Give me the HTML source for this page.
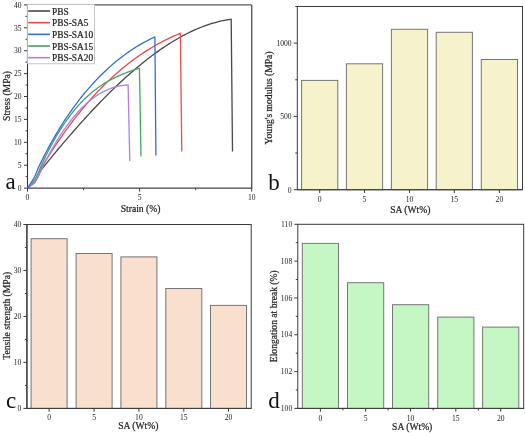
<!DOCTYPE html>
<html><head><meta charset="utf-8"><style>
html,body{margin:0;padding:0;background:#fff;}
body{width:525px;height:433px;overflow:hidden;}
svg{display:block;font-family:"Liberation Serif", serif;will-change:transform;}
.t{stroke:#222;stroke-width:0.22px;}
</style></head><body>
<svg width="525" height="433" viewBox="0 0 525 433">
<rect width="525" height="433" fill="#fff"/>
<line x1="27.50" y1="4.90" x2="251.70" y2="4.90" stroke="#5a5a5a" stroke-width="1.3" />
<line x1="251.70" y1="4.90" x2="251.70" y2="188.10" stroke="#5a5a5a" stroke-width="1.4" />
<line x1="27.50" y1="4.40" x2="27.50" y2="188.70" stroke="#333" stroke-width="1.1" />
<line x1="27.00" y1="188.10" x2="252.30" y2="188.10" stroke="#444" stroke-width="1.3" />
<line x1="24.00" y1="188.10" x2="27.50" y2="188.10" stroke="#3a3a3a" stroke-width="1.0" />
<text x="21.60" y="190.80" font-size="7.6" text-anchor="end" fill="#222">0</text>
<line x1="24.00" y1="165.20" x2="27.50" y2="165.20" stroke="#3a3a3a" stroke-width="1.0" />
<text x="21.60" y="167.90" font-size="7.6" text-anchor="end" fill="#222">5</text>
<line x1="24.00" y1="142.30" x2="27.50" y2="142.30" stroke="#3a3a3a" stroke-width="1.0" />
<text x="21.60" y="145.00" font-size="7.6" text-anchor="end" fill="#222">10</text>
<line x1="24.00" y1="119.40" x2="27.50" y2="119.40" stroke="#3a3a3a" stroke-width="1.0" />
<text x="21.60" y="122.10" font-size="7.6" text-anchor="end" fill="#222">15</text>
<line x1="24.00" y1="96.50" x2="27.50" y2="96.50" stroke="#3a3a3a" stroke-width="1.0" />
<text x="21.60" y="99.20" font-size="7.6" text-anchor="end" fill="#222">20</text>
<line x1="24.00" y1="73.60" x2="27.50" y2="73.60" stroke="#3a3a3a" stroke-width="1.0" />
<text x="21.60" y="76.30" font-size="7.6" text-anchor="end" fill="#222">25</text>
<line x1="24.00" y1="50.70" x2="27.50" y2="50.70" stroke="#3a3a3a" stroke-width="1.0" />
<text x="21.60" y="53.40" font-size="7.6" text-anchor="end" fill="#222">30</text>
<line x1="24.00" y1="27.80" x2="27.50" y2="27.80" stroke="#3a3a3a" stroke-width="1.0" />
<text x="21.60" y="30.50" font-size="7.6" text-anchor="end" fill="#222">35</text>
<line x1="24.00" y1="4.90" x2="27.50" y2="4.90" stroke="#3a3a3a" stroke-width="1.0" />
<text x="21.60" y="7.60" font-size="7.6" text-anchor="end" fill="#222">40</text>
<line x1="25.50" y1="176.65" x2="27.50" y2="176.65" stroke="#3a3a3a" stroke-width="1.0" />
<line x1="25.50" y1="153.75" x2="27.50" y2="153.75" stroke="#3a3a3a" stroke-width="1.0" />
<line x1="25.50" y1="130.85" x2="27.50" y2="130.85" stroke="#3a3a3a" stroke-width="1.0" />
<line x1="25.50" y1="107.95" x2="27.50" y2="107.95" stroke="#3a3a3a" stroke-width="1.0" />
<line x1="25.50" y1="85.05" x2="27.50" y2="85.05" stroke="#3a3a3a" stroke-width="1.0" />
<line x1="25.50" y1="62.15" x2="27.50" y2="62.15" stroke="#3a3a3a" stroke-width="1.0" />
<line x1="25.50" y1="39.25" x2="27.50" y2="39.25" stroke="#3a3a3a" stroke-width="1.0" />
<line x1="25.50" y1="16.35" x2="27.50" y2="16.35" stroke="#3a3a3a" stroke-width="1.0" />
<line x1="27.50" y1="188.10" x2="27.50" y2="191.60" stroke="#3a3a3a" stroke-width="1.0" />
<text x="27.50" y="200.30" font-size="7.6" text-anchor="middle" fill="#222">0</text>
<line x1="139.60" y1="188.10" x2="139.60" y2="191.60" stroke="#3a3a3a" stroke-width="1.0" />
<text x="139.60" y="200.30" font-size="7.6" text-anchor="middle" fill="#222">5</text>
<line x1="251.70" y1="188.10" x2="251.70" y2="191.60" stroke="#3a3a3a" stroke-width="1.0" />
<text x="251.70" y="200.30" font-size="7.6" text-anchor="middle" fill="#222">10</text>
<line x1="83.55" y1="188.10" x2="83.55" y2="190.10" stroke="#3a3a3a" stroke-width="1.0" />
<line x1="195.65" y1="188.10" x2="195.65" y2="190.10" stroke="#3a3a3a" stroke-width="1.0" />
<text class="t" x="140.60" y="212.00" font-size="9.6" text-anchor="middle" fill="#222">Strain (%)</text>
<text class="t" x="10.30" y="96.00" font-size="9.6" text-anchor="middle" fill="#222" transform="rotate(-90 10.30 96.00)">Stress (MPa)</text>
<text x="5.50" y="188.60" font-size="23" text-anchor="start" fill="#111">a</text>
<polyline points="27.80,187.80 28.94,186.94 30.07,186.08 31.21,185.22 32.35,184.43 33.48,183.58 34.62,182.40 35.75,180.71 36.89,178.70 38.03,176.46 39.16,173.88 40.30,171.00 42.44,168.33 44.59,165.68 46.73,163.04 48.88,160.42 51.02,157.80 53.17,155.20 55.31,152.62 57.46,150.04 59.60,147.48 61.75,144.94 63.89,142.41 66.04,139.90 68.18,137.40 70.33,134.92 72.47,132.45 74.62,130.00 76.76,127.57 78.91,125.15 81.05,122.76 83.20,120.38 85.34,118.02 87.49,115.67 89.63,113.35 91.78,111.05 93.92,108.76 96.07,106.50 98.21,104.25 100.36,102.03 102.50,99.83 104.65,97.65 106.79,95.49 108.94,93.35 111.08,91.24 113.23,89.15 115.37,87.08 117.52,85.03 119.66,83.01 121.81,81.02 123.95,79.04 126.10,77.10 128.24,75.17 130.39,73.28 132.53,71.41 134.68,69.56 136.82,67.74 138.97,65.95 141.11,64.19 143.26,62.45 145.40,60.74 147.55,59.06 149.69,57.41 151.84,55.79 153.98,54.19 156.13,52.63 158.27,51.10 160.42,49.59 162.56,48.12 164.71,46.68 166.85,45.27 169.00,43.89 171.14,42.54 173.29,41.23 175.43,39.95 177.58,38.70 179.72,37.48 181.87,36.30 184.01,35.15 186.16,34.04 188.30,32.96 190.45,31.92 192.59,30.91 194.74,29.94 196.88,29.00 199.03,28.10 201.17,27.24 203.32,26.42 205.46,25.63 207.61,24.88 209.75,24.17 211.90,23.49 214.04,22.86 216.19,22.26 218.33,21.71 220.48,21.19 222.62,20.72 224.77,20.28 226.91,19.89 229.06,19.54 231.20,19.22 232.50,151.40" fill="none" stroke="#474747" stroke-width="1.3" stroke-linejoin="round"/>
<polyline points="27.80,187.80 29.02,186.98 30.24,186.05 31.45,185.04 32.67,183.96 33.89,182.77 35.11,181.36 36.33,179.59 37.55,177.41 38.76,174.76 39.98,171.61 41.20,168.00 42.76,165.41 44.33,162.84 45.89,160.31 47.46,157.80 49.02,155.32 50.58,152.88 52.15,150.45 53.71,148.06 55.28,145.70 56.84,143.36 58.40,141.05 59.97,138.77 61.53,136.52 63.10,134.29 64.66,132.09 66.22,129.92 67.79,127.77 69.35,125.65 70.92,123.56 72.48,121.50 74.04,119.46 75.61,117.44 77.17,115.45 78.74,113.49 80.30,111.55 81.87,109.64 83.43,107.75 84.99,105.89 86.56,104.06 88.12,102.24 89.69,100.46 91.25,98.69 92.81,96.96 94.38,95.24 95.94,93.55 97.51,91.88 99.07,90.24 100.63,88.62 102.20,87.02 103.76,85.45 105.33,83.90 106.89,82.37 108.45,80.86 110.02,79.38 111.58,77.92 113.15,76.48 114.71,75.07 116.27,73.67 117.84,72.30 119.40,70.95 120.97,69.62 122.53,68.31 124.09,67.02 125.66,65.75 127.22,64.51 128.79,63.28 130.35,62.07 131.91,60.89 133.48,59.72 135.04,58.58 136.61,57.45 138.17,56.35 139.73,55.26 141.30,54.19 142.86,53.14 144.43,52.11 145.99,51.10 147.56,50.11 149.12,49.14 150.68,48.18 152.25,47.25 153.81,46.33 155.38,45.42 156.94,44.54 158.50,43.67 160.07,42.83 161.63,41.99 163.20,41.18 164.76,40.38 166.32,39.60 167.89,38.83 169.45,38.09 171.02,37.35 172.58,36.64 174.14,35.94 175.71,35.25 177.27,34.58 178.84,33.93 180.40,33.29 181.80,151.40" fill="none" stroke="#e84a4e" stroke-width="1.3" stroke-linejoin="round"/>
<polyline points="27.80,187.80 28.93,186.76 30.05,185.60 31.18,184.32 32.31,182.94 33.44,181.45 34.56,179.81 35.69,177.99 36.82,175.93 37.95,173.56 39.07,170.90 40.20,168.00 41.31,165.52 42.43,163.09 43.54,160.70 44.66,158.35 45.77,156.05 46.89,153.79 48.00,151.57 49.12,149.39 50.23,147.25 51.35,145.15 52.46,143.10 53.58,141.08 54.69,139.10 55.80,137.16 56.92,135.26 58.03,133.40 59.15,131.57 60.26,129.79 61.38,128.03 62.49,126.32 63.61,124.64 64.72,122.99 65.84,121.38 66.95,119.80 68.07,118.26 69.18,116.75 70.29,115.27 71.41,113.82 72.52,112.41 73.64,111.03 74.75,109.67 75.87,108.35 76.98,107.06 78.10,105.80 79.21,104.57 80.33,103.36 81.44,102.19 82.56,101.04 83.67,99.91 84.78,98.82 85.90,97.75 87.01,96.71 88.13,95.69 89.24,94.70 90.36,93.73 91.47,92.78 92.59,91.86 93.70,90.96 94.82,90.09 95.93,89.23 97.04,88.40 98.16,87.59 99.27,86.80 100.39,86.03 101.50,85.28 102.62,84.54 103.73,83.83 104.85,83.14 105.96,82.46 107.08,81.80 108.19,81.16 109.31,80.53 110.42,79.92 111.53,79.33 112.65,78.75 113.76,78.19 114.88,77.63 115.99,77.10 117.11,76.57 118.22,76.06 119.34,75.57 120.45,75.08 121.57,74.60 122.68,74.14 123.80,73.69 124.91,73.24 126.02,72.81 127.14,72.38 128.25,71.97 129.37,71.56 130.48,71.16 131.60,70.76 132.71,70.38 133.83,70.00 134.94,69.62 136.06,69.25 137.17,68.89 138.29,68.53 139.40,68.17 141.00,156.50" fill="none" stroke="#42a565" stroke-width="1.3" stroke-linejoin="round"/>
<polyline points="27.80,187.80 29.11,186.78 30.42,185.80 31.73,184.88 33.04,184.06 34.35,182.94 35.65,181.01 36.96,178.63 38.27,176.23 39.58,173.66 40.89,170.92 42.20,168.00 43.17,166.02 44.13,164.07 45.10,162.15 46.06,160.25 47.03,158.38 47.99,156.53 48.96,154.72 49.92,152.93 50.89,151.16 51.85,149.43 52.82,147.71 53.78,146.03 54.75,144.37 55.71,142.74 56.68,141.13 57.64,139.55 58.61,137.99 59.57,136.46 60.54,134.96 61.50,133.48 62.47,132.02 63.43,130.59 64.40,129.19 65.36,127.81 66.33,126.45 67.29,125.12 68.26,123.81 69.22,122.53 70.19,121.27 71.16,120.03 72.12,118.82 73.09,117.64 74.05,116.47 75.02,115.33 75.98,114.21 76.95,113.12 77.91,112.05 78.88,111.00 79.84,109.97 80.81,108.97 81.77,107.99 82.74,107.03 83.70,106.09 84.67,105.18 85.63,104.29 86.60,103.42 87.56,102.57 88.53,101.74 89.49,100.94 90.46,100.15 91.42,99.39 92.39,98.65 93.35,97.93 94.32,97.23 95.28,96.55 96.25,95.89 97.21,95.25 98.18,94.63 99.14,94.03 100.11,93.46 101.08,92.90 102.04,92.36 103.01,91.84 103.97,91.35 104.94,90.87 105.90,90.41 106.87,89.97 107.83,89.55 108.80,89.14 109.76,88.76 110.73,88.39 111.69,88.05 112.66,87.72 113.62,87.41 114.59,87.12 115.55,86.85 116.52,86.59 117.48,86.35 118.45,86.13 119.41,85.93 120.38,85.75 121.34,85.58 122.31,85.43 123.27,85.30 124.24,85.18 125.20,85.08 126.17,85.00 127.13,84.93 128.10,84.88 129.80,161.00" fill="none" stroke="#b27ee2" stroke-width="1.3" stroke-linejoin="round"/>
<polyline points="27.80,187.80 28.75,186.40 29.69,184.95 30.64,183.45 31.58,181.91 32.53,180.36 33.47,178.73 34.42,176.96 35.36,175.00 36.31,172.83 37.25,170.49 38.20,168.00 39.51,165.28 40.82,162.60 42.13,159.96 43.44,157.36 44.76,154.79 46.07,152.27 47.38,149.78 48.69,147.33 50.00,144.92 51.31,142.55 52.62,140.21 53.93,137.91 55.25,135.64 56.56,133.41 57.87,131.21 59.18,129.04 60.49,126.91 61.80,124.81 63.11,122.75 64.42,120.71 65.74,118.71 67.05,116.74 68.36,114.80 69.67,112.89 70.98,111.01 72.29,109.16 73.60,107.34 74.91,105.55 76.23,103.78 77.54,102.05 78.85,100.34 80.16,98.65 81.47,97.00 82.78,95.37 84.09,93.76 85.40,92.18 86.72,90.62 88.03,89.09 89.34,87.59 90.65,86.10 91.96,84.64 93.27,83.20 94.58,81.78 95.89,80.38 97.21,79.01 98.52,77.65 99.83,76.32 101.14,75.01 102.45,73.71 103.76,72.44 105.07,71.19 106.38,69.95 107.70,68.74 109.01,67.54 110.32,66.37 111.63,65.21 112.94,64.08 114.25,62.96 115.56,61.86 116.87,60.78 118.19,59.72 119.50,58.68 120.81,57.65 122.12,56.64 123.43,55.66 124.74,54.68 126.05,53.73 127.36,52.79 128.68,51.88 129.99,50.97 131.30,50.09 132.61,49.22 133.92,48.37 135.23,47.54 136.54,46.72 137.85,45.92 139.17,45.13 140.48,44.37 141.79,43.61 143.10,42.87 144.41,42.15 145.72,41.45 147.03,40.76 148.34,40.08 149.66,39.42 150.97,38.77 152.28,38.14 153.59,37.52 154.90,36.92 155.90,155.50" fill="none" stroke="#2f6fd6" stroke-width="1.3" stroke-linejoin="round"/>
<rect x="27.5" y="4.3" width="67" height="59.5" fill="#fff" stroke="#b8b8b8" stroke-width="0.8"/>
<line x1="28.20" y1="11.00" x2="50.00" y2="11.00" stroke="#474747" stroke-width="1.6" />
<text class="t" x="52.00" y="14.60" font-size="9.4" text-anchor="start" fill="#222">PBS</text>
<line x1="28.20" y1="22.67" x2="50.00" y2="22.67" stroke="#e84a4e" stroke-width="1.6" />
<text class="t" x="52.00" y="26.27" font-size="9.4" text-anchor="start" fill="#222">PBS-SA5</text>
<line x1="28.20" y1="34.34" x2="50.00" y2="34.34" stroke="#2f6fd6" stroke-width="1.6" />
<text class="t" x="52.00" y="37.94" font-size="9.4" text-anchor="start" fill="#222">PBS-SA10</text>
<line x1="28.20" y1="46.01" x2="50.00" y2="46.01" stroke="#42a565" stroke-width="1.6" />
<text class="t" x="52.00" y="49.61" font-size="9.4" text-anchor="start" fill="#222">PBS-SA15</text>
<line x1="28.20" y1="57.68" x2="50.00" y2="57.68" stroke="#b27ee2" stroke-width="1.6" />
<text class="t" x="52.00" y="61.28" font-size="9.4" text-anchor="start" fill="#222">PBS-SA20</text>
<rect x="297.3" y="6.5" width="225.20" height="183.20" fill="none" stroke="#3a3a3a" stroke-width="1.0"/>
<line x1="293.80" y1="189.70" x2="297.30" y2="189.70" stroke="#3a3a3a" stroke-width="1.0" />
<text x="291.60" y="192.60" font-size="7.6" text-anchor="end" fill="#222">0</text>
<line x1="293.80" y1="116.42" x2="297.30" y2="116.42" stroke="#3a3a3a" stroke-width="1.0" />
<text x="291.60" y="119.32" font-size="7.6" text-anchor="end" fill="#222">500</text>
<line x1="293.80" y1="43.14" x2="297.30" y2="43.14" stroke="#3a3a3a" stroke-width="1.0" />
<text x="291.60" y="46.04" font-size="7.6" text-anchor="end" fill="#222">1000</text>
<line x1="295.30" y1="153.06" x2="297.30" y2="153.06" stroke="#3a3a3a" stroke-width="1.0" />
<line x1="295.30" y1="79.78" x2="297.30" y2="79.78" stroke="#3a3a3a" stroke-width="1.0" />
<line x1="295.30" y1="6.50" x2="297.30" y2="6.50" stroke="#3a3a3a" stroke-width="1.0" />
<rect x="301.60" y="80.40" width="36.20" height="109.30" fill="#f5f2cc" stroke="#767676" stroke-width="1.0"/>
<rect x="346.40" y="63.80" width="36.20" height="125.90" fill="#f5f2cc" stroke="#767676" stroke-width="1.0"/>
<rect x="391.40" y="29.30" width="36.20" height="160.40" fill="#f5f2cc" stroke="#767676" stroke-width="1.0"/>
<rect x="436.20" y="32.30" width="36.20" height="157.40" fill="#f5f2cc" stroke="#767676" stroke-width="1.0"/>
<rect x="481.30" y="59.50" width="36.20" height="130.20" fill="#f5f2cc" stroke="#767676" stroke-width="1.0"/>
<line x1="319.70" y1="189.70" x2="319.70" y2="193.00" stroke="#3a3a3a" stroke-width="1.0" />
<text x="319.70" y="201.80" font-size="7.6" text-anchor="middle" fill="#222">0</text>
<line x1="364.50" y1="189.70" x2="364.50" y2="193.00" stroke="#3a3a3a" stroke-width="1.0" />
<text x="364.50" y="201.80" font-size="7.6" text-anchor="middle" fill="#222">5</text>
<line x1="409.50" y1="189.70" x2="409.50" y2="193.00" stroke="#3a3a3a" stroke-width="1.0" />
<text x="409.50" y="201.80" font-size="7.6" text-anchor="middle" fill="#222">10</text>
<line x1="454.30" y1="189.70" x2="454.30" y2="193.00" stroke="#3a3a3a" stroke-width="1.0" />
<text x="454.30" y="201.80" font-size="7.6" text-anchor="middle" fill="#222">15</text>
<line x1="499.40" y1="189.70" x2="499.40" y2="193.00" stroke="#3a3a3a" stroke-width="1.0" />
<text x="499.40" y="201.80" font-size="7.6" text-anchor="middle" fill="#222">20</text>
<line x1="297.30" y1="189.70" x2="522.50" y2="189.70" stroke="#3a3a3a" stroke-width="1.0" />
<text class="t" x="410.30" y="212.90" font-size="9.6" text-anchor="middle" fill="#222">SA (Wt%)</text>
<text class="t" x="272.00" y="97.90" font-size="9.6" text-anchor="middle" fill="#222" transform="rotate(-90 272.00 97.90)">Young's modulus (MPa)</text>
<text x="268.30" y="189.60" font-size="23" text-anchor="start" fill="#111">b</text>
<rect x="26.9" y="224.5" width="224.30" height="183.90" fill="none" stroke="#3a3a3a" stroke-width="1.0"/>
<line x1="26.90" y1="224.50" x2="26.90" y2="408.40" stroke="#3a3a3a" stroke-width="1.2" />
<line x1="23.40" y1="408.40" x2="26.90" y2="408.40" stroke="#3a3a3a" stroke-width="1.0" />
<text x="21.40" y="411.00" font-size="7.6" text-anchor="end" fill="#222">0</text>
<line x1="23.40" y1="362.42" x2="26.90" y2="362.42" stroke="#3a3a3a" stroke-width="1.0" />
<text x="21.40" y="365.02" font-size="7.6" text-anchor="end" fill="#222">10</text>
<line x1="23.40" y1="316.45" x2="26.90" y2="316.45" stroke="#3a3a3a" stroke-width="1.0" />
<text x="21.40" y="319.05" font-size="7.6" text-anchor="end" fill="#222">20</text>
<line x1="23.40" y1="270.48" x2="26.90" y2="270.48" stroke="#3a3a3a" stroke-width="1.0" />
<text x="21.40" y="273.08" font-size="7.6" text-anchor="end" fill="#222">30</text>
<line x1="23.40" y1="224.50" x2="26.90" y2="224.50" stroke="#3a3a3a" stroke-width="1.0" />
<text x="21.40" y="227.10" font-size="7.6" text-anchor="end" fill="#222">40</text>
<line x1="24.90" y1="385.41" x2="26.90" y2="385.41" stroke="#3a3a3a" stroke-width="1.0" />
<line x1="24.90" y1="339.44" x2="26.90" y2="339.44" stroke="#3a3a3a" stroke-width="1.0" />
<line x1="24.90" y1="293.46" x2="26.90" y2="293.46" stroke="#3a3a3a" stroke-width="1.0" />
<line x1="24.90" y1="247.49" x2="26.90" y2="247.49" stroke="#3a3a3a" stroke-width="1.0" />
<rect x="31.10" y="238.70" width="36.00" height="169.70" fill="#f9dfcd" stroke="#767676" stroke-width="1.0"/>
<rect x="76.10" y="253.50" width="36.00" height="154.90" fill="#f9dfcd" stroke="#767676" stroke-width="1.0"/>
<rect x="120.90" y="256.90" width="36.00" height="151.50" fill="#f9dfcd" stroke="#767676" stroke-width="1.0"/>
<rect x="165.80" y="288.50" width="36.00" height="119.90" fill="#f9dfcd" stroke="#767676" stroke-width="1.0"/>
<rect x="210.50" y="305.40" width="36.00" height="103.00" fill="#f9dfcd" stroke="#767676" stroke-width="1.0"/>
<line x1="49.10" y1="408.40" x2="49.10" y2="411.70" stroke="#3a3a3a" stroke-width="1.0" />
<text x="49.10" y="420.40" font-size="7.6" text-anchor="middle" fill="#222">0</text>
<line x1="94.10" y1="408.40" x2="94.10" y2="411.70" stroke="#3a3a3a" stroke-width="1.0" />
<text x="94.10" y="420.40" font-size="7.6" text-anchor="middle" fill="#222">5</text>
<line x1="138.90" y1="408.40" x2="138.90" y2="411.70" stroke="#3a3a3a" stroke-width="1.0" />
<text x="138.90" y="420.40" font-size="7.6" text-anchor="middle" fill="#222">10</text>
<line x1="183.80" y1="408.40" x2="183.80" y2="411.70" stroke="#3a3a3a" stroke-width="1.0" />
<text x="183.80" y="420.40" font-size="7.6" text-anchor="middle" fill="#222">15</text>
<line x1="228.50" y1="408.40" x2="228.50" y2="411.70" stroke="#3a3a3a" stroke-width="1.0" />
<text x="228.50" y="420.40" font-size="7.6" text-anchor="middle" fill="#222">20</text>
<line x1="26.90" y1="408.40" x2="251.20" y2="408.40" stroke="#3a3a3a" stroke-width="1.0" />
<text class="t" x="138.30" y="428.80" font-size="9.6" text-anchor="middle" fill="#222">SA (Wt%)</text>
<text class="t" x="10.20" y="315.80" font-size="9.6" text-anchor="middle" fill="#222" transform="rotate(-90 10.20 315.80)">Tensile strength (MPa)</text>
<text x="6.00" y="408.20" font-size="23" text-anchor="start" fill="#111">c</text>
<rect x="297.8" y="224.3" width="225.90" height="184.10" fill="none" stroke="#3a3a3a" stroke-width="1.0"/>
<line x1="294.30" y1="408.40" x2="297.80" y2="408.40" stroke="#3a3a3a" stroke-width="1.0" />
<text x="292.20" y="411.00" font-size="7.6" text-anchor="end" fill="#222">100</text>
<line x1="294.30" y1="371.58" x2="297.80" y2="371.58" stroke="#3a3a3a" stroke-width="1.0" />
<text x="292.20" y="374.18" font-size="7.6" text-anchor="end" fill="#222">102</text>
<line x1="294.30" y1="334.76" x2="297.80" y2="334.76" stroke="#3a3a3a" stroke-width="1.0" />
<text x="292.20" y="337.36" font-size="7.6" text-anchor="end" fill="#222">104</text>
<line x1="294.30" y1="297.94" x2="297.80" y2="297.94" stroke="#3a3a3a" stroke-width="1.0" />
<text x="292.20" y="300.54" font-size="7.6" text-anchor="end" fill="#222">106</text>
<line x1="294.30" y1="261.12" x2="297.80" y2="261.12" stroke="#3a3a3a" stroke-width="1.0" />
<text x="292.20" y="263.72" font-size="7.6" text-anchor="end" fill="#222">108</text>
<line x1="294.30" y1="224.30" x2="297.80" y2="224.30" stroke="#3a3a3a" stroke-width="1.0" />
<text x="292.20" y="226.90" font-size="7.6" text-anchor="end" fill="#222">110</text>
<line x1="295.80" y1="389.99" x2="297.80" y2="389.99" stroke="#3a3a3a" stroke-width="1.0" />
<line x1="295.80" y1="353.17" x2="297.80" y2="353.17" stroke="#3a3a3a" stroke-width="1.0" />
<line x1="295.80" y1="316.35" x2="297.80" y2="316.35" stroke="#3a3a3a" stroke-width="1.0" />
<line x1="295.80" y1="279.53" x2="297.80" y2="279.53" stroke="#3a3a3a" stroke-width="1.0" />
<line x1="295.80" y1="242.71" x2="297.80" y2="242.71" stroke="#3a3a3a" stroke-width="1.0" />
<rect x="302.30" y="243.40" width="36.20" height="165.00" fill="#c5f7c4" stroke="#767676" stroke-width="1.0"/>
<rect x="347.50" y="282.70" width="36.20" height="125.70" fill="#c5f7c4" stroke="#767676" stroke-width="1.0"/>
<rect x="392.50" y="304.70" width="36.20" height="103.70" fill="#c5f7c4" stroke="#767676" stroke-width="1.0"/>
<rect x="437.70" y="317.10" width="36.20" height="91.30" fill="#c5f7c4" stroke="#767676" stroke-width="1.0"/>
<rect x="482.60" y="327.10" width="36.20" height="81.30" fill="#c5f7c4" stroke="#767676" stroke-width="1.0"/>
<line x1="320.40" y1="408.40" x2="320.40" y2="411.70" stroke="#3a3a3a" stroke-width="1.0" />
<text x="320.40" y="420.80" font-size="7.6" text-anchor="middle" fill="#222">0</text>
<line x1="342.95" y1="408.40" x2="342.95" y2="410.40" stroke="#3a3a3a" stroke-width="1.0" />
<line x1="365.60" y1="408.40" x2="365.60" y2="411.70" stroke="#3a3a3a" stroke-width="1.0" />
<text x="365.60" y="420.80" font-size="7.6" text-anchor="middle" fill="#222">5</text>
<line x1="388.15" y1="408.40" x2="388.15" y2="410.40" stroke="#3a3a3a" stroke-width="1.0" />
<line x1="410.60" y1="408.40" x2="410.60" y2="411.70" stroke="#3a3a3a" stroke-width="1.0" />
<text x="410.60" y="420.80" font-size="7.6" text-anchor="middle" fill="#222">10</text>
<line x1="433.15" y1="408.40" x2="433.15" y2="410.40" stroke="#3a3a3a" stroke-width="1.0" />
<line x1="455.80" y1="408.40" x2="455.80" y2="411.70" stroke="#3a3a3a" stroke-width="1.0" />
<text x="455.80" y="420.80" font-size="7.6" text-anchor="middle" fill="#222">15</text>
<line x1="478.35" y1="408.40" x2="478.35" y2="410.40" stroke="#3a3a3a" stroke-width="1.0" />
<line x1="500.70" y1="408.40" x2="500.70" y2="411.70" stroke="#3a3a3a" stroke-width="1.0" />
<text x="500.70" y="420.80" font-size="7.6" text-anchor="middle" fill="#222">20</text>
<line x1="297.80" y1="408.40" x2="523.70" y2="408.40" stroke="#3a3a3a" stroke-width="1.0" />
<text class="t" x="412.20" y="429.50" font-size="9.6" text-anchor="middle" fill="#222">SA (Wt%)</text>
<text class="t" x="277.00" y="316.20" font-size="9.6" text-anchor="middle" fill="#222" transform="rotate(-90 277.00 316.20)">Elongation at break (%)</text>
<text x="268.30" y="408.20" font-size="23" text-anchor="start" fill="#111">d</text>
</svg>
</body></html>
